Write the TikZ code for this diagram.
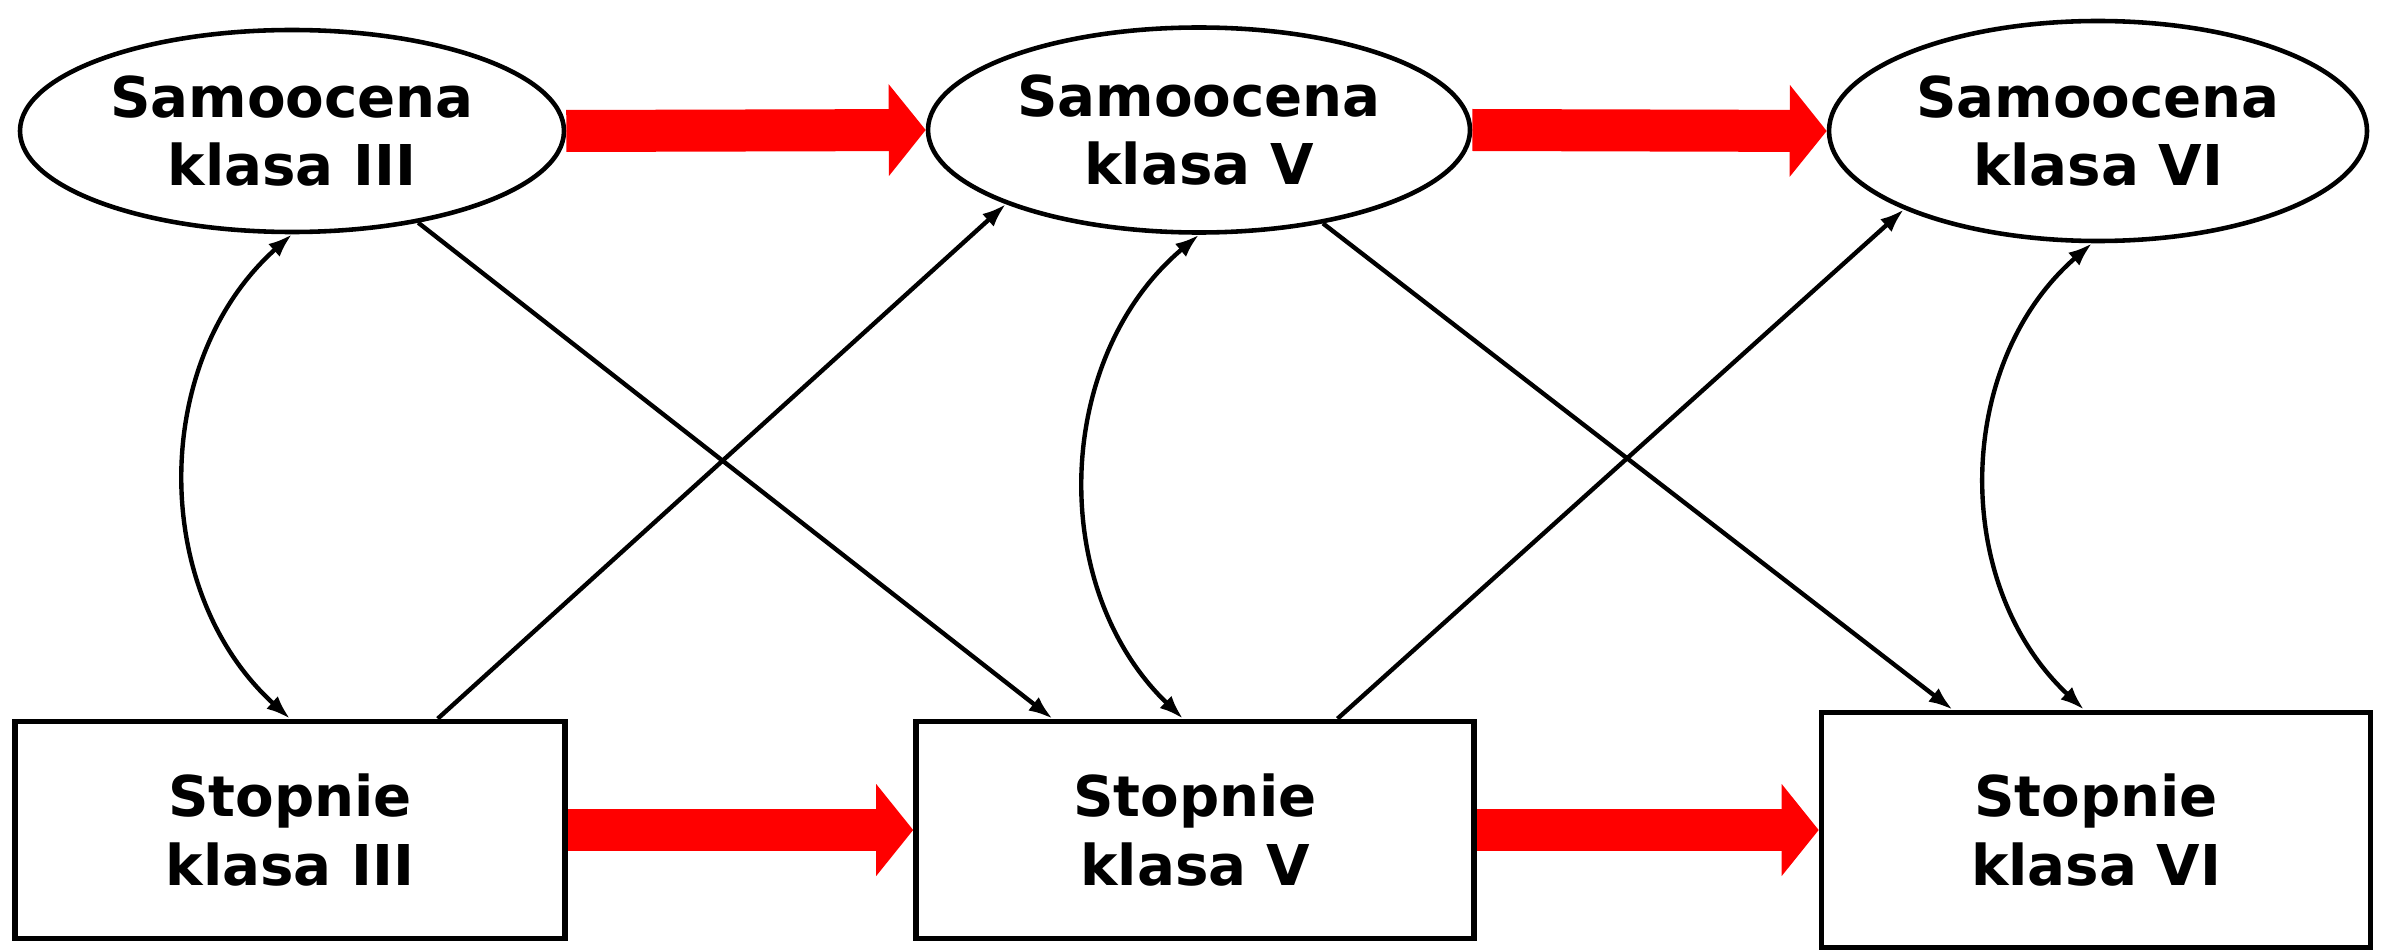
\documentclass[tikz,border=0pt]{standalone}
\usepackage{fontspec}
\setmainfont{DejaVu Sans}
\usetikzlibrary{arrows.meta,calc,shapes.geometric}
\definecolor{bigred}{HTML}{FF0000}

\begin{document}
\begin{tikzpicture}[
    font=\rmfamily\bfseries\fontsize{16}{19.6}\selectfont,
    >={Latex[length=2.4mm,width=1.7mm]},
    selfrate/.style = {ellipse, draw=black, fill=white, line width=1.3pt,
                       inner sep=0pt, align=center},
    grade/.style    = {rectangle, draw=black, fill=white, line width=1.6pt,
                       inner sep=0pt, align=center},
    bigarrow/.style = {draw=bigred, line width=0.42cm,
                       -{Triangle[length=0.37cm,width=0.9cm]}},
    link/.style     = {draw=black, line width=1.25pt, ->},
    corr/.style     = {draw=black, line width=1.25pt, <->},
  ]
  \useasboundingbox (0,0) rectangle (23.94,9.49);

  % --- Self-rating (top row) --------------------------------------------
  \node[selfrate, minimum width=5.44cm, minimum height=2.02cm] (s3)
    at (2.92,8.18) {Samoocena\\klasa III};
  \node[selfrate, minimum width=5.42cm, minimum height=2.05cm] (s5)
    at (11.99,8.19) {Samoocena\\klasa V};
  \node[selfrate, minimum width=5.38cm, minimum height=2.20cm] (s6)
    at (20.98,8.18) {Samoocena\\klasa VI};

  % --- Grades (bottom row) ----------------------------------------------
  \node[grade, minimum width=5.50cm, minimum height=2.17cm] (g3)
    at (2.90,1.19) {Stopnie\\klasa III};
  \node[grade, minimum width=5.58cm, minimum height=2.17cm] (g5)
    at (11.95,1.19) {Stopnie\\klasa V};
  \node[grade, minimum width=5.49cm, minimum height=2.35cm] (g6)
    at (20.96,1.19) {Stopnie\\klasa VI};

  % --- Stability paths --------------------------------------------------
  \draw[bigarrow] (s3.east) -- (s5.west);
  \draw[bigarrow] (s5.east) -- (s6.west);
  \draw[bigarrow] (g3.east) -- (g5.west);
  \draw[bigarrow] (g5.east) -- (g6.west);

  % --- Cross-lagged paths -----------------------------------------------
  \draw[link] (s3.-36) -- (g5.142);
  \draw[link] (g3.37)  -- (s5.201);
  \draw[link] (s5.-37) -- (g6.140);
  \draw[link] (g5.38)  -- (s6.202);

  % --- Correlations -----------------------------------------------------
  \draw[corr] (s3.south) to[bend right=48] (g3.north);
  \draw[corr] (s5.south) to[bend right=48] ($(g5.north)+(-0.12,0)$);
  \draw[corr] ($(s6.south)+(-0.06,0)$) to[bend right=48] ($(g6.north)+(-0.12,0)$);

\end{tikzpicture}
\end{document}
